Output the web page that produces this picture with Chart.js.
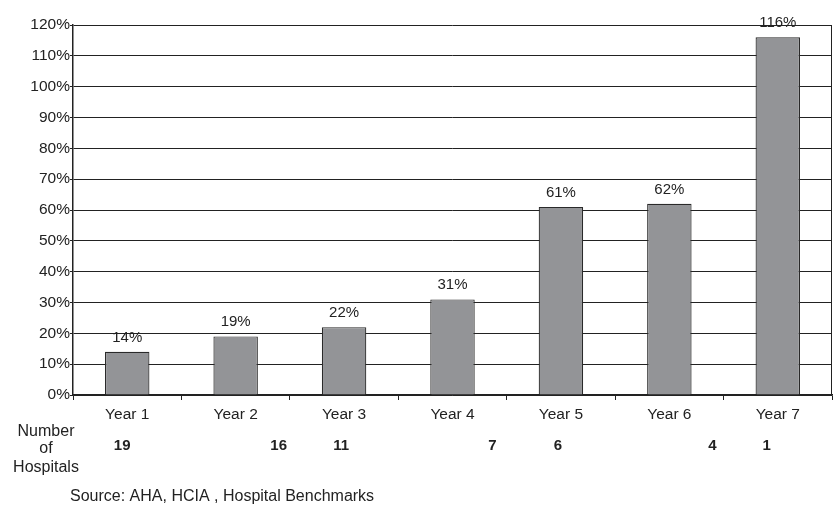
<!DOCTYPE html>
<html>
<head>
<meta charset="utf-8">
<script src="https://cdn.jsdelivr.net/npm/chart.js@4.4.1/dist/chart.umd.min.js"></script>
<style>
  html, body { margin: 0; padding: 0; background: #fff; }
  #wrap { width: 834px; height: 505px; position: relative; }
</style>
</head>
<body>
<div id="wrap"><canvas id="c" width="834" height="505"></canvas></div>
<script>
// Chart data
const years = ['Year 1', 'Year 2', 'Year 3', 'Year 4', 'Year 5', 'Year 6', 'Year 7'];
const growthPct = [14, 19, 22, 31, 61, 62, 116];
const hospitalCounts = [19, 16, 11, 7, 6, 4, 1];
const rowTitle = ['Number', 'of', 'Hospitals'];
const sourceNote = 'Source: AHA, HCIA , Hospital Benchmarks';

// Layout of the hospital-count row (horizontal shift from each category centre)
const countShift = [-5, 43, -3, 40, -3, 43, -11];

const FONT = '"Liberation Sans", Arial, Helvetica, sans-serif';
const INK = '#222';

const annotations = {
  id: 'annotations',
  afterDraw(chart) {
    const { ctx, chartArea } = chart;
    const x = chart.scales.x, y = chart.scales.y;
    ctx.save();

    // right frame edge
    ctx.strokeStyle = INK;
    ctx.lineWidth = 1;
    ctx.beginPath();
    ctx.moveTo(Math.round(chartArea.right) - 0.5, chartArea.top);
    ctx.lineTo(Math.round(chartArea.right) - 0.5, chartArea.bottom);
    ctx.stroke();

    // value labels above bars
    ctx.fillStyle = INK;
    ctx.font = '15px ' + FONT;
    ctx.textAlign = 'center';
    ctx.textBaseline = 'alphabetic';
    growthPct.forEach((v, i) => {
      ctx.fillText(v + '%', x.getPixelForValue(i), y.getPixelForValue(v) - 10);
    });

    // hospital counts row
    ctx.font = 'bold 15px ' + FONT;
    ctx.textBaseline = 'middle';
    hospitalCounts.forEach((n, i) => {
      ctx.fillText(String(n), x.getPixelForValue(i) + countShift[i], 446);
    });

    // row title
    ctx.font = '16px ' + FONT;
    const titleY = [432, 449, 468];
    rowTitle.forEach((t, i) => ctx.fillText(t, 46, titleY[i]));

    // source note
    ctx.textAlign = 'left';
    ctx.fillText(sourceNote, 70, 497);
    ctx.restore();
  }
};

new Chart(document.getElementById('c'), {
  type: 'bar',
  data: {
    labels: years,
    datasets: [{
      data: growthPct,
      backgroundColor: '#939497',
      borderColor: '#2a2a2a',
      borderWidth: 1.2,
      categoryPercentage: 0.82,
      barPercentage: 0.5
    }]
  },
  options: {
    responsive: false,
    animation: false,
    devicePixelRatio: 1,
    layout: { padding: { left: 0, right: 2, top: 25, bottom: 0 } },
    plugins: { legend: { display: false }, tooltip: { enabled: false } },
    scales: {
      x: {
        offset: true,
        grid: { offset: true, drawOnChartArea: false, color: INK, tickLength: 5, lineWidth: 1 },
        border: { color: INK, width: 1.5 },
        ticks: { color: INK, font: { family: FONT, size: 15.5 }, padding: 5 },
        afterFit(s) { s.height = 110; }
      },
      y: {
        min: 0, max: 120,
        grid: { color: INK, lineWidth: 1, tickLength: 3 },
        border: { color: INK, width: 1.5 },
        ticks: { stepSize: 10, color: INK, font: { family: FONT, size: 15.5 }, padding: 0,
                 callback: v => v + '%' },
        afterFit(s) { s.width = 73; }
      }
    }
  },
  plugins: [annotations]
});
</script>
</body>
</html>
